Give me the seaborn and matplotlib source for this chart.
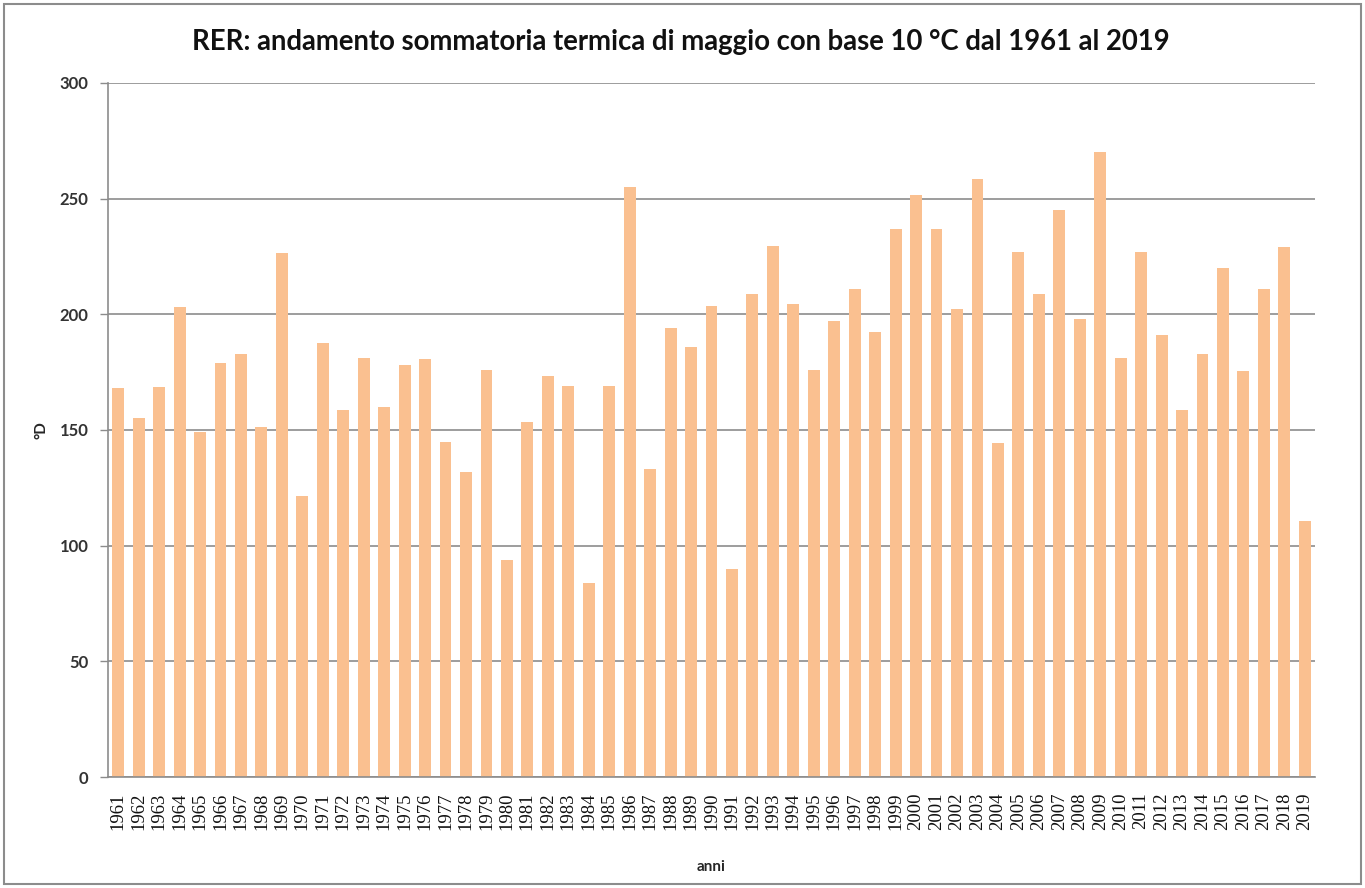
import matplotlib
matplotlib.use("Agg")
import matplotlib.pyplot as plt
import seaborn as sns
import pandas as pd
from matplotlib.patches import Rectangle

years = list(range(1961, 2020))
values = [168, 155, 168.5, 203, 149, 179, 183, 151.5, 226.5, 121.5,
          187.5, 158.5, 181, 160, 178, 180.5, 145, 132, 176, 94,
          153.5, 173.5, 169, 84, 169, 255, 133, 194, 186, 203.5,
          90, 209, 229.5, 204.5, 176, 197, 211, 192.5, 237, 251.5,
          237, 202.5, 258.5, 144.5, 227, 209, 245, 198, 270, 181,
          227, 191, 158.5, 183, 220, 175.5, 211, 229, 110.5]
yticks = [0, 50, 100, 150, 200, 250, 300]
title = "RER: andamento sommatoria termica di maggio con base 10 °C dal 1961 al 2019"

df = pd.DataFrame({"anno": [str(y) for y in years], "valore": values})

sns.set_theme(style="white")
plt.rcParams['font.family'] = ['Lato', 'DejaVu Sans']

fig = plt.figure(figsize=(13.65, 8.88), dpi=100)
ax = fig.add_axes([108/1365, 1-777/888, (1315-108)/1365, (777-83)/888])

sns.barplot(data=df, x="anno", y="valore", color="#FAC090", saturation=1,
            width=0.58, ax=ax, edgecolor="none")

ax.set_ylim(0, 300)
ax.set_xlim(-0.5, len(years) - 0.5)
ax.set_yticks(yticks)
ax.set_yticklabels([str(t) for t in yticks], fontsize=12, fontweight='bold', color='#333333')
ax.set_xticks(range(len(years)))
ax.set_xticklabels([str(y) for y in years], rotation=90)
for lab in ax.get_xticklabels():
    lab.set_fontfamily(['Liberation Serif'])
    lab.set_fontsize(13.5)
    lab.set_color('#111111')
ax.yaxis.grid(True, color='#8c8c8c', linewidth=1.2)
ax.set_axisbelow(True)
for s in ['top', 'right']:
    ax.spines[s].set_visible(False)
for s in ['left', 'bottom']:
    ax.spines[s].set_color('#8c8c8c')
    ax.spines[s].set_linewidth(1.2)
ax.tick_params(axis='y', which='both', left=True, length=6, width=1, color='#8c8c8c', pad=8)
ax.tick_params(axis='x', bottom=False, pad=5)

ax.set_ylabel("°D", fontsize=11, fontweight='bold')
ax.set_xlabel("anni", fontsize=11, fontweight='bold', labelpad=22)
ax.yaxis.set_label_coords(-60/1207, 0.5)

fig.text(681 / 1365, 1 - 42/888, title, ha='center', va='center',
         fontsize=19.8, fontweight='bold', color='#111111')

fig.patches.append(Rectangle((4/1365, 4/888), 1 - 8/1365, 1 - 8/888, transform=fig.transFigure,
                             fill=False, edgecolor='#8c8c8c', linewidth=1.5))

fig.savefig("out.png", dpi=100)
